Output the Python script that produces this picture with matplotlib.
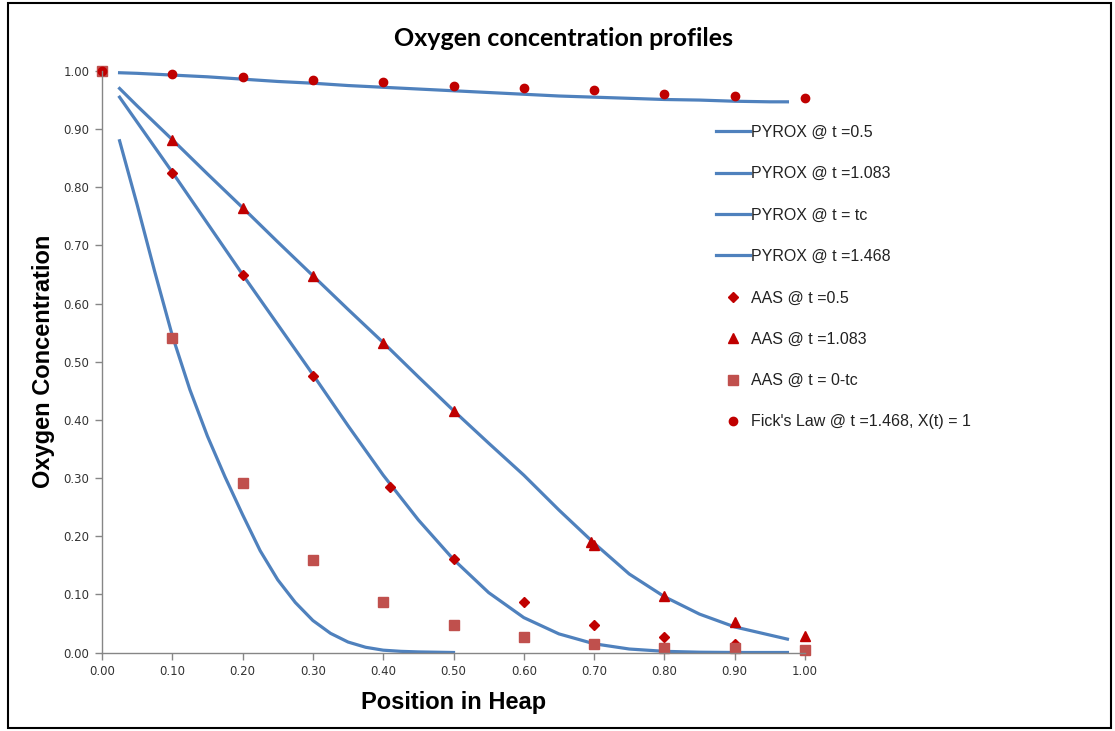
import numpy as np
import matplotlib
matplotlib.use('Agg')
import matplotlib.pyplot as plt
from matplotlib.patches import Rectangle

# curvas PYROX
x_pyrox = [0.025, 0.05, 0.1, 0.15, 0.2, 0.25, 0.3, 0.35, 0.4, 0.45, 0.5,
           0.55, 0.6, 0.65, 0.7, 0.75, 0.8, 0.85, 0.9, 0.95, 0.975]
pyrox_05 = [0.955, 0.912, 0.826, 0.738, 0.65, 0.564, 0.478, 0.39, 0.305, 0.228, 0.16,
            0.103, 0.06, 0.032, 0.015, 0.006, 0.002, 0.0005, 0.0, 0.0, 0.0]
pyrox_1083 = [0.97, 0.94, 0.882, 0.823, 0.765, 0.706, 0.648, 0.59, 0.533, 0.474, 0.416,
              0.36, 0.305, 0.245, 0.188, 0.135, 0.096, 0.066, 0.044, 0.03, 0.023]
pyrox_1468 = [0.997, 0.996, 0.993, 0.99, 0.986, 0.982, 0.979, 0.975, 0.972, 0.969, 0.966,
              0.963, 0.96, 0.957, 0.955, 0.953, 0.951, 0.95, 0.948, 0.947, 0.947]

x_tc = [0.025, 0.05, 0.075, 0.1, 0.125, 0.15, 0.175, 0.2, 0.225, 0.25, 0.275,
        0.3, 0.325, 0.35, 0.375, 0.4, 0.425, 0.45, 0.5]
pyrox_tc = [0.88, 0.77, 0.655, 0.545, 0.452, 0.372, 0.302, 0.237, 0.175, 0.125, 0.086,
            0.055, 0.033, 0.018, 0.009, 0.004, 0.002, 0.001, 0.0]

# pontos AAS / Fick
x_aas05 = [0.1, 0.2, 0.3, 0.41, 0.5, 0.6, 0.7, 0.8, 0.9]
aas_05 = [0.825, 0.649, 0.475, 0.285, 0.161, 0.087, 0.048, 0.027, 0.014]

x_aas1083 = [0.1, 0.2, 0.3, 0.4, 0.5, 0.695, 0.7, 0.8, 0.9, 1.0]
aas_1083 = [0.881, 0.765, 0.648, 0.533, 0.416, 0.19, 0.185, 0.098, 0.053, 0.028]

x_dez = [0.0, 0.1, 0.2, 0.3, 0.4, 0.5, 0.6, 0.7, 0.8, 0.9, 1.0]
aas_tc = [1.0, 0.54, 0.292, 0.159, 0.086, 0.047, 0.026, 0.014, 0.008, 0.007, 0.004]
fick = [1.0, 0.994, 0.989, 0.985, 0.981, 0.975, 0.971, 0.967, 0.961, 0.957, 0.953]

y_ticks = np.arange(0, 1.01, 0.1)
x_ticks = np.arange(0, 1.01, 0.1)

azul = '#4F81BD'
vermelho = '#C00000'
vermelho_q = '#C0504D'
cinza = '#868686'

fig = plt.figure(figsize=(11.15, 7.31), dpi=100)
ax = fig.add_axes([102 / 1115, 1 - 652.5 / 731, 703 / 1115, 581.5 / 731])

lw = 2.3
ax.plot(x_pyrox, pyrox_05, color=azul, lw=lw, label='PYROX @ t =0.5')
ax.plot(x_pyrox, pyrox_1083, color=azul, lw=lw, label='PYROX @ t =1.083')
ax.plot(x_tc, pyrox_tc, color=azul, lw=lw, label='PYROX @ t = tc')
ax.plot(x_pyrox, pyrox_1468, color=azul, lw=lw, label='PYROX @ t =1.468')

ax.plot(x_aas05, aas_05, 'D', color=vermelho, ms=5, ls='none', label='AAS @ t =0.5', clip_on=False)
ax.plot(x_aas1083, aas_1083, '^', color=vermelho, ms=7, ls='none', label='AAS @ t =1.083', clip_on=False)
ax.plot(x_dez, aas_tc, 's', color=vermelho_q, ms=7.5, ls='none', label='AAS @ t = 0-tc', clip_on=False)
ax.plot(x_dez, fick, 'o', color=vermelho, ms=6, ls='none',
        label="Fick's Law @ t =1.468, X(t) = 1", clip_on=False)

ax.set_xlim(0, 1)
ax.set_ylim(0, 1)
ax.set_xticks(x_ticks)
ax.set_yticks(y_ticks)
ax.set_xticklabels(['%.2f' % v for v in x_ticks])
ax.set_yticklabels(['%.2f' % v for v in y_ticks])
ax.tick_params(direction='out', length=5, width=1, color=cinza, labelsize=8.5,
               labelcolor='#333333', pad=4)
for lado in ['top', 'right']:
    ax.spines[lado].set_visible(False)
for lado in ['left', 'bottom']:
    ax.spines[lado].set_color(cinza)
    ax.spines[lado].set_linewidth(1)

ax.set_xlabel('Position in Heap', fontsize=17, fontweight='bold',
              family='Liberation Sans', labelpad=9)
ax.set_ylabel('Oxygen Concentration', fontsize=17, fontweight='bold',
              family='Liberation Sans', labelpad=6)

fig.text(564 / 1115, 1 - 38 / 731, 'Oxygen concentration profiles', fontsize=18,
         fontweight='bold', family='Lato', ha='center', va='center')

leg = ax.legend(loc='upper left', bbox_to_anchor=(716 / 1115, 1 - 125 / 731),
                bbox_transform=fig.transFigure, frameon=False, borderpad=0,
                borderaxespad=0, handlelength=2.15, handletextpad=0.05,
                labelspacing=1.65, prop={'family': 'Liberation Sans', 'size': 11.5})
for t in leg.get_texts():
    t.set_color('#222222')

# moldura preta ao redor da figura
fig.patches.append(Rectangle((8 / 1115, 3 / 731), 1103 / 1115, 725 / 731,
                             transform=fig.transFigure, fill=False,
                             edgecolor='black', lw=1.5))

fig.savefig('out.png', dpi=100)
